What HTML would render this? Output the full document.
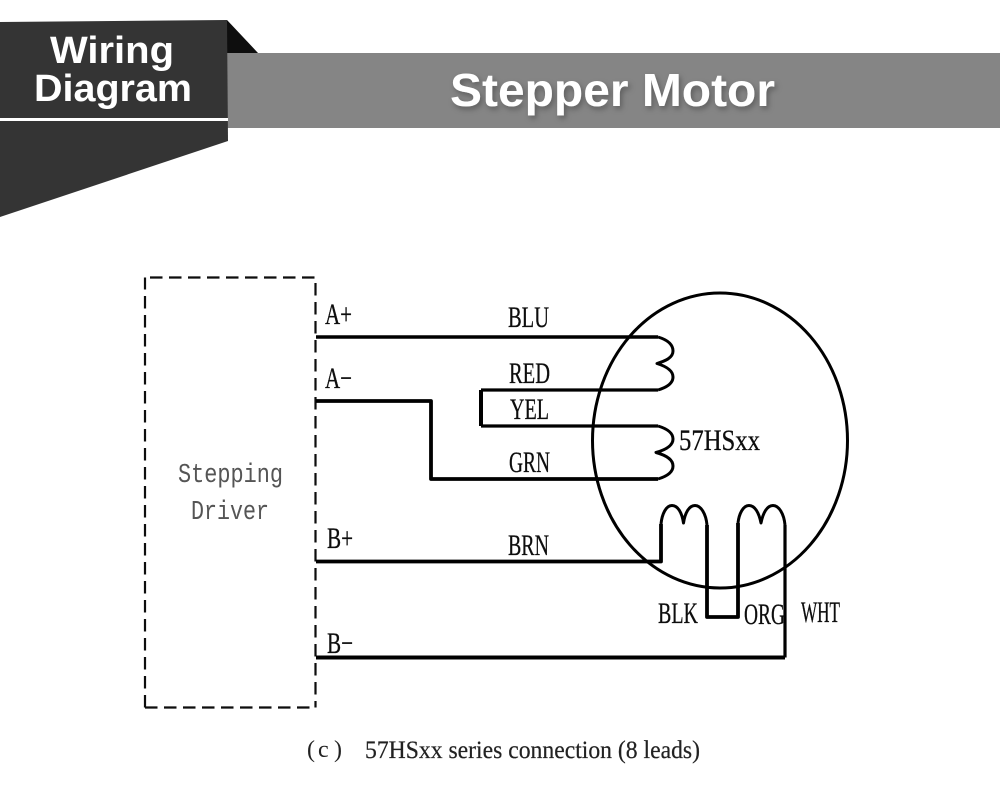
<!DOCTYPE html>
<html>
<head>
<meta charset="utf-8">
<style>
html,body{margin:0;padding:0;background:#fff;width:1000px;height:795px;overflow:hidden}
svg{display:block}
.l{font-family:"Liberation Serif",serif;font-size:30px;fill:#111;stroke:#111;stroke-width:.3}
.h{font-family:"Liberation Sans",sans-serif;font-weight:bold;fill:#fff}
.w{fill:none;stroke:#000;stroke-linejoin:round}
.d{fill:none;stroke:#111;stroke-width:2.2;stroke-dasharray:12.5 6.5}
</style>
</head>
<body>
<svg width="1000" height="795" viewBox="0 0 1000 795" xmlns="http://www.w3.org/2000/svg">
<defs>
<filter id="s" x="-10%" y="-30%" width="120%" height="170%"><feDropShadow dx="2" dy="3" stdDeviation="3" flood-color="#000" flood-opacity=".3"/></filter>
<filter id="b" x="-5%" y="-5%" width="110%" height="110%"><feGaussianBlur stdDeviation="0.35"/></filter>
</defs>

<rect x="225" y="53" width="775" height="75" fill="#858585"/>
<polygon points="227,20 258,53 227,53" fill="#0e0e0e"/>
<polygon points="0,22 227,20 228,141 0,217" fill="#343434"/>
<rect x="0" y="118" width="228" height="3" fill="#fff"/>
<text class="h" x="50" y="63" font-size="38" textLength="124" lengthAdjust="spacingAndGlyphs">Wiring</text>
<text class="h" x="34" y="101" font-size="38" textLength="158" lengthAdjust="spacingAndGlyphs">Diagram</text>
<text class="h" x="450" y="106" font-size="46" textLength="325" lengthAdjust="spacingAndGlyphs" filter="url(#s)">Stepper Motor</text>

<g filter="url(#b)">
<path class="d" d="M150 277.500H315.500"/>
<path class="d" d="M145 707.500V277.500"/>
<path class="d" d="M315.500 283V707.500"/>
<path class="d" d="M145 707.500H315.500"/>
<ellipse cx="720" cy="440.5" rx="127.5" ry="147.5" fill="none" stroke="#000" stroke-width="3"/>

<path class="w" stroke-width="3.6" d="M316 337H658"/>
<path class="w" stroke-width="3" d="M658 337C668 340 673 345 673 351C673 358 665 361 657 363.500C665 366 673 370 673 377C673 383 668 387 658 390"/>
<path class="w" stroke-width="3.2" d="M658 390H481"/>
<path class="w" stroke-width="4" d="M481 390V426"/>
<path class="w" stroke-width="3.2" d="M481 426H658"/>
<path class="w" stroke-width="3" d="M658 426C668 429 673 433 673 439C673 446 665 450 656 452.500C665 455 673 459 673 466C673 472 668 476 658 479"/>
<path class="w" stroke-width="3.800" d="M316 401H431V479H658"/>
<path class="w" stroke-width="3.800" d="M316 561.500H661V524"/>
<path class="w" stroke-width="3" d="M661 524C662 514 666 505.500 672 505.500C678 505.500 682 513 683.500 523C685 513 689 505.500 695 505.500C701 505.500 706 514 707 525"/>
<path class="w" stroke-width="3.800" d="M707 525V617H738V523"/>
<path class="w" stroke-width="3" d="M738 523C739 514 743 505.500 749 505.500C755 505.500 759 513 761 523C763 513 767 505.500 773 505.500C779 505.500 784 514 785 525"/>
<path class="w" stroke-width="3.200" d="M785 525V657.500"/>
<path class="w" stroke-width="4" d="M316 657.500H785"/>

<text class="l" x="325" y="324" textLength="27" lengthAdjust="spacingAndGlyphs">A+</text>
<text class="l" x="325" y="388" textLength="27" lengthAdjust="spacingAndGlyphs">A−</text>
<text class="l" x="327" y="548" textLength="26" lengthAdjust="spacingAndGlyphs">B+</text>
<text class="l" x="327" y="653" textLength="26" lengthAdjust="spacingAndGlyphs">B−</text>
<text class="l" x="508" y="327" textLength="41" lengthAdjust="spacingAndGlyphs">BLU</text>
<text class="l" x="509" y="383" textLength="41" lengthAdjust="spacingAndGlyphs">RED</text>
<text class="l" x="510" y="419" textLength="39" lengthAdjust="spacingAndGlyphs">YEL</text>
<text class="l" x="509" y="472" textLength="41" lengthAdjust="spacingAndGlyphs">GRN</text>
<text class="l" x="508" y="555" textLength="41" lengthAdjust="spacingAndGlyphs">BRN</text>
<text class="l" x="658" y="623" textLength="40" lengthAdjust="spacingAndGlyphs">BLK</text>
<text class="l" x="744" y="624" textLength="41" lengthAdjust="spacingAndGlyphs">ORG</text>
<text class="l" x="801" y="622" textLength="39" lengthAdjust="spacingAndGlyphs">WHT</text>
<text class="l" x="679" y="450" textLength="81" lengthAdjust="spacingAndGlyphs">57HSxx</text>
<text x="178" y="482" font-family="Liberation Mono, monospace" font-size="27" fill="#555" textLength="105" lengthAdjust="spacingAndGlyphs">Stepping</text>
<text x="191" y="519" font-family="Liberation Mono, monospace" font-size="27" fill="#555" textLength="78" lengthAdjust="spacingAndGlyphs">Driver</text>
<text x="307 318 334" y="757" font-family="Liberation Serif, serif" font-size="24" fill="#222">(c)</text>
<text x="365" y="758" font-family="Liberation Serif, serif" font-size="25" fill="#222" stroke="#222" stroke-width=".2" textLength="335" lengthAdjust="spacingAndGlyphs">57HSxx series connection (8 leads)</text>
</g>
</svg>
</body>
</html>
